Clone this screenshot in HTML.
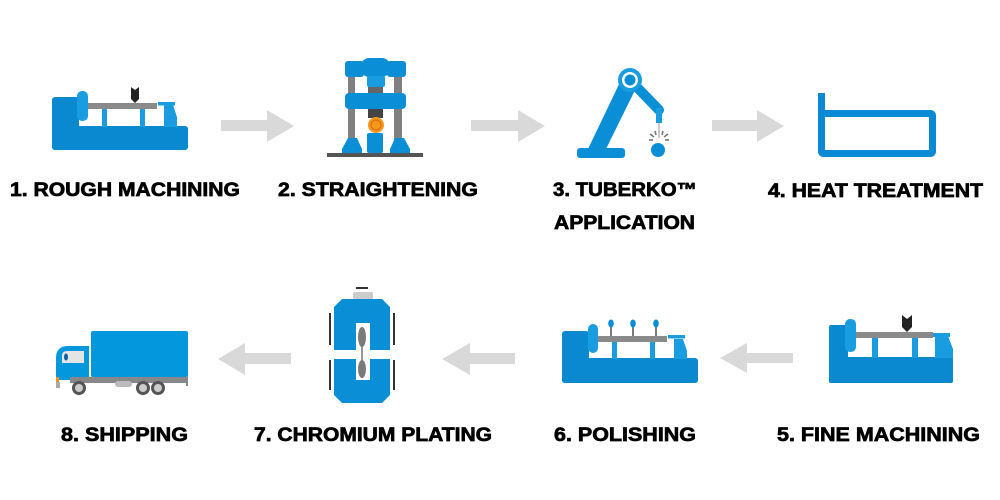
<!DOCTYPE html>
<html><head><meta charset="utf-8">
<style>
html,body{margin:0;padding:0;background:#fff;}
svg{display:block;}
text{font-family:"Liberation Sans",Arial,sans-serif;font-weight:bold;font-size:19px;fill:#000;stroke:#000;stroke-width:0.7px;}
</style></head>
<body>
<svg width="1000" height="500" viewBox="0 0 1000 500" xmlns="http://www.w3.org/2000/svg">
<rect width="1000" height="500" fill="#fff"/>

<!-- Lathe 1 -->
<g transform="translate(52,97)">
  <rect x="0" y="0" width="27" height="53" rx="3" fill="#0a88d0"/>
  <rect x="0" y="29" width="136" height="24" rx="3" fill="#0a88d0"/>
  <rect x="50" y="12" width="5" height="18" fill="#1a9de0"/>
  <rect x="88" y="12" width="5" height="18" fill="#1a9de0"/>
  <polygon points="112,8 121,8 125,20 125,30 112,30" fill="#1a9de0"/>
  <rect x="114" y="8" width="5" height="22" fill="#1a9de0"/>
  <rect x="106" y="5" width="17" height="3.5" fill="#1a9de0"/>
  <rect x="25" y="-6" width="11" height="30" rx="5" fill="#1a9de0"/>
  <rect x="36" y="6" width="69" height="6" fill="#8a8a8a"/>
  <polygon points="79,-10 83,-7 87,-10 87,2 83,6 79,2" fill="#222"/>
</g>

<!-- Arrow 1->2 -->
<polygon points="221,120 267,120 267,110 294,126 267,142 267,131 221,131" fill="#d9d9d9"/>

<!-- Press -->
<g>
  <rect x="348" y="72" width="7" height="72" fill="#808080"/>
  <rect x="394" y="72" width="8" height="72" fill="#808080"/>
  <rect x="327" y="153" width="96" height="4" fill="#555"/>
  <rect x="345" y="61" width="19" height="16" rx="3" fill="#0a8fd6"/>
  <rect x="387" y="61" width="19" height="16" rx="3" fill="#0a8fd6"/>
  <rect x="361" y="58" width="29" height="19" rx="8" fill="#0a8fd6"/>
  <rect x="367" y="76" width="18" height="11" rx="2" fill="#1a9de0"/>
  <rect x="368" y="87" width="15" height="6" fill="#666"/>
  <rect x="345" y="93" width="61" height="16" rx="4" fill="#0a8fd6"/>
  <rect x="368" y="109" width="15" height="9" fill="#444"/>
  <circle cx="376" cy="125" r="8" fill="#f39a1e"/>
  <circle cx="376" cy="125" r="5" fill="none" stroke="#e06a10" stroke-width="1.2"/>
  <rect x="367" y="133" width="16" height="20" rx="2" fill="#0a8fd6"/>
  <polygon points="348,138 357,138 362,149 362,153 342,153 342,149" fill="#0a8fd6"/>
  <polygon points="395,138 404,138 410,149 410,153 390,153 390,149" fill="#0a8fd6"/>
</g>

<!-- Arrow 2->3 -->
<polygon points="471,120 518,120 518,110 545,126 518,142 518,131 471,131" fill="#d9d9d9"/>

<!-- Robot -->
<g>
  <rect x="577" y="148" width="48" height="10" rx="3" fill="#0a8fd6"/>
  <polygon points="588,149 606,149 638,84 622,78" fill="#0a8fd6"/>
  <line x1="630" y1="80" x2="659" y2="110" stroke="#0a8fd6" stroke-width="10" stroke-linecap="round"/>
  <rect x="656" y="108" width="6" height="15" fill="#1a9de0"/>
  <circle cx="630" cy="80" r="12" fill="#1a9de0"/>
  <circle cx="630" cy="80" r="8" fill="#fff"/>
  <circle cx="630" cy="80" r="5.5" fill="#0a8fd6"/>
  <line x1="659" y1="123" x2="659" y2="138" stroke="#999" stroke-width="1"/>
  <g stroke="#777" stroke-width="1.6">
    <line x1="650" y1="134" x2="654" y2="137"/>
    <line x1="668" y1="134" x2="664" y2="137"/>
    <line x1="649" y1="140" x2="653" y2="140"/>
    <line x1="669" y1="140" x2="665" y2="140"/>
    <line x1="655" y1="131" x2="656" y2="135"/>
    <line x1="663" y1="131" x2="662" y2="135"/>
  </g>
  <circle cx="658" cy="150" r="7" fill="#0a8fd6"/>
</g>

<!-- Arrow 3->4 -->
<polygon points="712,120 757,120 757,110 784,126 757,142 757,131 712,131" fill="#d9d9d9"/>

<!-- Heat tank -->
<g fill="none" stroke="#0a8ad4" stroke-width="7">
  <line x1="821.5" y1="93" x2="821.5" y2="153"/>
  <rect x="821.5" y="113.5" width="111" height="40" rx="2"/>
</g>

<!-- Truck -->
<g>
  <rect x="91" y="331" width="97" height="46" rx="2" fill="#0398de"/>
  <path d="M56,380 V358 Q56,346 68,346 H89 V380 Z" fill="#0398de"/>
  <path d="M62,363 V356 Q62,351 67,351 H84 V363 Z" fill="#e4e4e4"/>
  <ellipse cx="66" cy="357" rx="2" ry="3.5" fill="#0a5fa0"/>
  <rect x="56" y="377" width="3" height="5" fill="#f5921e"/>
  <rect x="56" y="382" width="4" height="6" fill="#aaa"/>
  <rect x="70" y="377" width="117" height="6" fill="#888"/>
  <rect x="186" y="376" width="2" height="10" fill="#888"/>
  <rect x="115" y="381" width="17" height="6" rx="3" fill="#bbb"/>
  <circle cx="79" cy="388" r="7" fill="#555"/><circle cx="79" cy="388" r="4" fill="#ccc"/>
  <circle cx="143" cy="388" r="7" fill="#555"/><circle cx="143" cy="388" r="4" fill="#ccc"/>
  <circle cx="158" cy="388" r="7" fill="#555"/><circle cx="158" cy="388" r="4" fill="#ccc"/>
</g>

<!-- Arrow 7->8 -->
<polygon points="218,359 245,343 245,353 291,353 291,364 245,364 245,375" fill="#d9d9d9"/>

<!-- Chromium plating -->
<g>
  <rect x="356" y="287" width="12" height="2" fill="#333"/>
  <rect x="353" y="292" width="20" height="8" rx="2" fill="#ccc"/>
  <polygon points="342,299 382,299 390,307 390,350 370,350 370,323 356,323 356,350 334,350 334,307" fill="#0a8fd6"/>
  <polygon points="334,359 356,359 356,380 370,380 370,359 390,359 390,395 382,403 342,403 334,395" fill="#0a8fd6"/>
  <rect x="329" y="313" width="2" height="32" fill="#333"/>
  <rect x="329" y="360" width="2" height="30" fill="#333"/>
  <rect x="393" y="313" width="2" height="32" fill="#333"/>
  <rect x="393" y="360" width="2" height="30" fill="#333"/>
  <line x1="362" y1="340" x2="362" y2="365" stroke="#777" stroke-width="1.5"/>
  <ellipse cx="362" cy="337" rx="4" ry="10" fill="#7a7a7a"/>
  <ellipse cx="362" cy="369" rx="4" ry="9" fill="#7a7a7a"/>
</g>

<!-- Arrow 6->7 -->
<polygon points="442,359 470,343 470,353 515,353 515,364 470,364 470,375" fill="#d9d9d9"/>

<!-- Polishing lathe -->
<g transform="translate(562,331)">
  <rect x="0" y="0" width="27" height="52" rx="3" fill="#0a88d0"/>
  <rect x="0" y="27" width="136" height="25" rx="3" fill="#0a88d0"/>
  <rect x="50" y="11" width="5" height="17" fill="#1a9de0"/>
  <rect x="88" y="11" width="5" height="17" fill="#1a9de0"/>
  <polygon points="112,8 121,8 125,20 125,28 112,28" fill="#1a9de0"/>
  <rect x="114" y="8" width="5" height="20" fill="#1a9de0"/>
  <rect x="106" y="4" width="17" height="3.5" fill="#1a9de0"/>
  <rect x="26" y="-7" width="10" height="29" rx="5" fill="#1a9de0"/>
  <rect x="36" y="5" width="69" height="6" fill="#8a8a8a"/>
  <g stroke="#333" stroke-width="1.3">
    <line x1="49" y1="-4" x2="49" y2="5"/>
    <line x1="71" y1="-4" x2="71" y2="5"/>
    <line x1="94" y1="-4" x2="94" y2="5"/>
  </g>
  <ellipse cx="49" cy="-7.5" rx="2.8" ry="4" fill="#0a8fd6"/>
  <ellipse cx="71" cy="-7.5" rx="2.8" ry="4" fill="#0a8fd6"/>
  <ellipse cx="94" cy="-7.5" rx="2.8" ry="4" fill="#0a8fd6"/>
</g>

<!-- Arrow 5->6 -->
<polygon points="720,358 747,343 747,353 793,353 793,363 747,363 747,373" fill="#d9d9d9"/>

<!-- Fine machining lathe -->
<g transform="translate(829,325)">
  <rect x="0" y="0" width="19" height="58" rx="2" fill="#0a88d0"/>
  <rect x="0" y="32" width="124" height="26" rx="2" fill="#0a88d0"/>
  <rect x="43" y="13" width="6" height="20" fill="#1a9de0"/>
  <rect x="83" y="13" width="6" height="20" fill="#1a9de0"/>
  <polygon points="110,11 119,11 124,24 124,33 110,33" fill="#1a9de0"/>
  <rect x="106" y="11" width="5" height="22" fill="#1a9de0"/>
  <rect x="104" y="8" width="17" height="4" fill="#1a9de0"/>
  <rect x="16" y="-6" width="11" height="33" rx="5" fill="#1a9de0"/>
  <rect x="27" y="7" width="77" height="6" fill="#8a8a8a"/>
  <polygon points="73,-10 78,-6 83,-10 83,2 78,7 73,2" fill="#222"/>
</g>

<!-- Labels -->
<text x="10" y="196" textLength="230" lengthAdjust="spacingAndGlyphs">1. ROUGH MACHINING</text>
<text x="278" y="196" textLength="200" lengthAdjust="spacingAndGlyphs">2. STRAIGHTENING</text>
<text x="553" y="196" textLength="144" lengthAdjust="spacingAndGlyphs">3. TUBERKO™</text>
<text x="554" y="229" textLength="141" lengthAdjust="spacingAndGlyphs">APPLICATION</text>
<text x="768" y="197" textLength="215" lengthAdjust="spacingAndGlyphs">4. HEAT TREATMENT</text>

<text x="61" y="441" textLength="127" lengthAdjust="spacingAndGlyphs">8. SHIPPING</text>
<text x="254" y="441" textLength="238" lengthAdjust="spacingAndGlyphs">7. CHROMIUM PLATING</text>
<text x="554" y="441" textLength="142" lengthAdjust="spacingAndGlyphs">6. POLISHING</text>
<text x="777" y="441" textLength="203" lengthAdjust="spacingAndGlyphs">5. FINE MACHINING</text>
</svg>
</body></html>
